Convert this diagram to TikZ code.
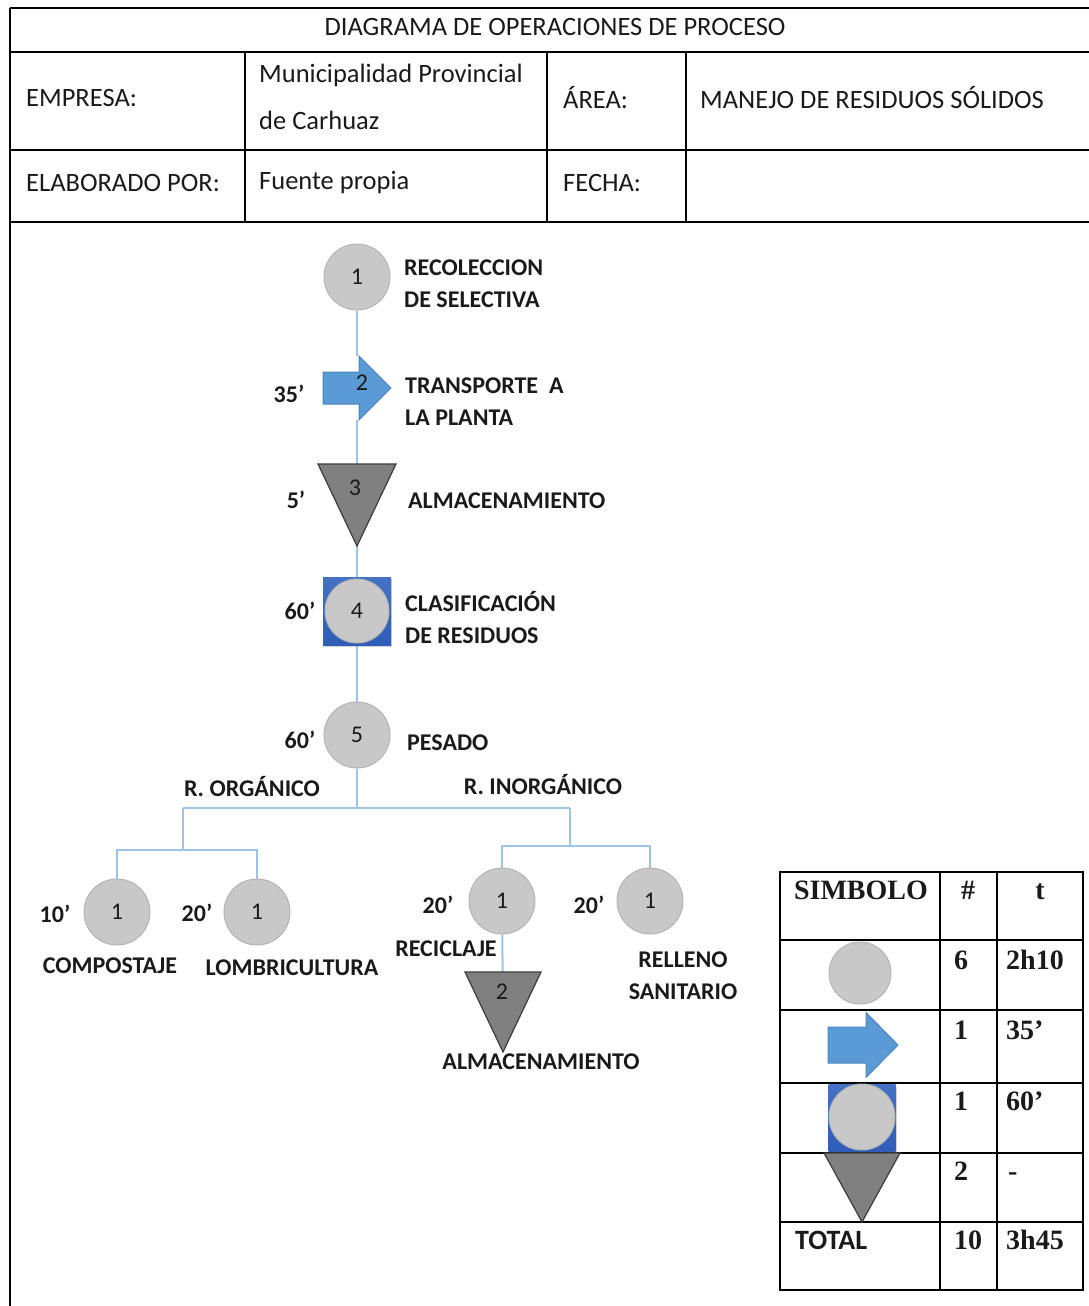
\documentclass[tikz,border=0pt]{standalone}
\usepackage{fontspec}
\newfontfamily\calfont{Carlito}
\newfontfamily\tnrfont{Liberation Serif}
\usetikzlibrary{backgrounds,calc,shadows}
\definecolor{lineblue}{HTML}{9DC3E6}
\definecolor{cgray}{HTML}{C8C8C8}
\definecolor{cgrayb}{HTML}{B4B4B4}
\definecolor{arrblue}{HTML}{5B9BD5}
\definecolor{arrblueb}{HTML}{4A86C0}
\definecolor{trigray}{HTML}{808080}
\definecolor{trigrayb}{HTML}{3C3C3C}
\definecolor{sqblue}{HTML}{4472C4}
\definecolor{sqblued}{HTML}{2F5DB8}
\definecolor{txt}{HTML}{1A1A1A}
\begin{document}
\begin{tikzpicture}[x=1pt,y=-1pt,
  rule/.style={line width=1.5pt, black},
  hdr/.style={font=\calfont\fontsize{26.5}{47}\selectfont, anchor=west, inner sep=0, align=left, text=txt},
  lbl/.style={font=\calfont\bfseries\fontsize{24}{32}\selectfont, anchor=west, inner sep=0, align=left, text=txt},
  tm/.style={font=\calfont\bfseries\fontsize{24}{24}\selectfont, inner sep=0, text=txt},
  numtxt/.style={font=\calfont\fontsize{24}{24}\selectfont, inner sep=0, text=txt},
  opc/.style={circle, minimum size=66, inner sep=0, fill=cgray, draw=cgrayb, line width=1pt, font=\calfont\fontsize{24}{24}\selectfont, text=txt},
  blank/.style={inner sep=0, outer sep=0},
  trifill/.style={fill=trigray, draw=trigrayb, line width=1.2pt},
  arrfill/.style={fill=arrblue, draw=arrblueb, line width=1pt},
  sqbox/.style={minimum size=68, inner sep=0, top color=sqblue, bottom color=sqblued, drop shadow={opacity=0.35, shadow xshift=1pt, shadow yshift=-2pt}},
  conn/.style={draw=lineblue, line width=2pt},
  tbl/.style={font=\tnrfont\bfseries\fontsize{28}{28}\selectfont, inner sep=0, anchor=base west, text=txt},
  tblc/.style={tbl, anchor=base}
]
\useasboundingbox (0,0) rectangle (1089,1306);

% ---------- header grid ----------
\draw[rule] (10,8) -- (1089,8);
\draw[rule] (10,52) -- (1089,52);
\draw[rule] (10,150) -- (1089,150);
\draw[rule] (10,222) -- (1089,222);
\draw[rule] (10,8) -- (10,1306);
\draw[rule] (245,52) -- (245,222);
\draw[rule] (547,52) -- (547,222);
\draw[rule] (686,52) -- (686,222);

\node[hdr, anchor=center] (title) at (555,27) {DIAGRAMA DE OPERACIONES DE PROCESO};
\node[hdr] (emp) at (26,98) {EMPRESA:};
\node[hdr] (muni) at (259,97) {Municipalidad Provincial\\de Carhuaz};
\node[hdr] (area) at (563,98) {ÁREA:};
\node[hdr] (manejo) at (700,98) {MANEJO DE RESIDUOS SÓLIDOS};
\node[hdr] (elab) at (26,183) {ELABORADO POR:};
\node[hdr] (fuente) at (259,183) {Fuente propia};
\node[hdr] (fecha) at (563,183) {FECHA:};

% ---------- main flow ----------
\node[opc] (c1) at (357,277) {1};
\node[lbl] (l1) at (404,284) {RECOLECCION\\DE SELECTIVA};

\node[blank, minimum width=68, minimum height=64] (a2) at (357,388) {};
\node[blank, minimum width=78, minimum height=82] (t3) at (357,505) {};
\node[sqbox] (s4) at (357,611) {};
\node[opc] (c5) at (357,735) {5};

\begin{pgfonlayer}{background}
  \draw[conn] (c1) -- (a2) -- (t3) -- (s4) -- (c5);
\end{pgfonlayer}

\draw[arrfill] ($(a2.center)+(-34,-16)$) -- ++(36,0) -- ++(0,-16) -- ($(a2.center)+(34,0)$)
   -- ($(a2.center)+(2,32)$) -- ++(0,-16) -- ($(a2.center)+(-34,16)$) -- cycle;
\node[numtxt] (n2) at (362,383) {2};
\node[tm] (tm2) at (289,394) {35’};
\node[lbl] (l2) at (405,402) {TRANSPORTE\ \ A\\LA PLANTA};

\draw[trifill] (t3.north west) -- (t3.north east) -- (t3.south) -- cycle;
\node[numtxt] (n3) at (355,488) {3};
\node[tm] (tm3) at (296,500) {5’};
\node[lbl] (l3) at (408,501) {ALMACENAMIENTO};

\node[opc, minimum size=64] (c4) at (357,611) {4};
\node[tm] (tm4) at (300,611) {60’};
\node[lbl] (l4) at (405,618) {CLASIFICACIÓN\\DE RESIDUOS};

\node[tm] (tm5) at (300,740) {60’};
\node[lbl] (l5) at (407,743) {PESADO};
\node[lbl, anchor=center] (lorg) at (252,786) {R. ORGÁNICO};
\node[lbl, anchor=center] (linorg) at (543,784) {R. INORGÁNICO};

% ---------- branches ----------
\coordinate (jL) at (183,808);
\coordinate (jR) at (570,808);
\coordinate (kL) at (183,850);
\coordinate (kR) at (570,846);

\node[opc] (comp) at (117,912) {1};
\node[opc] (lomb) at (257,912) {1};
\node[opc] (recic) at (502,901) {1};
\node[opc] (rell) at (650,901) {1};
\node[blank, minimum width=76, minimum height=80] (t2) at (503,1012) {};

\begin{pgfonlayer}{background}
  \draw[conn] (c5) -- (c5 |- jL);
  \draw[conn] (jL) -- (jR);
  \draw[conn] (jL) -- (kL);
  \draw[conn] (jR) -- (kR);
  \draw[conn] (comp) |- (kL) -| (lomb);
  \draw[conn] (recic) |- (kR) -| (rell);
  \draw[conn] (recic) -- (t2);
\end{pgfonlayer}

\node[tm] (tmc) at (55,914) {10’};
\node[tm] (tml) at (197,913) {20’};
\node[lbl, anchor=center] (lcomp) at (110,966) {COMPOSTAJE};
\node[lbl, anchor=center] (llomb) at (292,968) {LOMBRICULTURA};
\node[tm] (tmr) at (438,905) {20’};
\node[tm] (tmre) at (589,905) {20’};
\node[lbl, anchor=center] (lrec) at (446,949) {RECICLAJE};
\node[lbl, anchor=center, align=center] (lrell) at (683,976) {RELLENO\\SANITARIO};

\draw[trifill] (t2.north west) -- (t2.north east) -- (t2.south) -- cycle;
\node[numtxt] (n2b) at (502,992) {2};
\node[lbl, anchor=center] (lalm2) at (541,1062) {ALMACENAMIENTO};

% ---------- symbol table ----------
\draw[rule] (780,872) rectangle (1083,1290);
\foreach \yy in {940,1010,1083,1153,1222} \draw[rule] (780,\yy) -- (1083,\yy);
\draw[rule] (940,872) -- (940,1290);
\draw[rule] (997,872) -- (997,1290);

\node[tblc] (hs) at (861,899) {SIMBOLO};
\node[tblc] (hn) at (968,899) {\#};
\node[tblc] (ht) at (1040,899) {t};

\node[opc, minimum size=62] (sc) at (860,973) {};
\node[tbl] (n6) at (954,969) {6};
\node[tbl] (t6) at (1006,969) {2h10};

\node[blank, minimum width=70, minimum height=65] (sa) at (863,1045) {};
\draw[arrfill] ($(sa.center)+(-35,-18)$) -- ++(38,0) -- ++(0,-14.5) -- ($(sa.center)+(35,0)$)
   -- ($(sa.center)+(3,32.5)$) -- ++(0,-14.5) -- ($(sa.center)+(-35,18)$) -- cycle;
\node[tbl] (n1a) at (954,1039) {1};
\node[tbl] (t1a) at (1006,1039) {35’};

\node[sqbox, minimum size=67] (ssq) at (862,1118) {};
\node[opc] (ssc) at (862,1117) {};
\node[tbl] (n1b) at (954,1110) {1};
\node[tbl] (t1b) at (1006,1110) {60’};

\node[blank, minimum width=76, minimum height=69] (st) at (862,1187.5) {};
\draw[trifill] (st.north west) -- (st.north east) -- (st.south) -- cycle;
\node[tbl] (n2t) at (954,1180) {2};
\node[tbl] (t2t) at (1008,1180) {-};

\node[font=\calfont\bfseries\fontsize{28}{28}\selectfont, inner sep=0, anchor=base west, text=txt] (tot) at (795,1249) {TOTAL};
\node[tbl] (n10) at (954,1249) {10};
\node[tbl] (t345) at (1006,1249) {3h45};
\end{tikzpicture}
\end{document}
